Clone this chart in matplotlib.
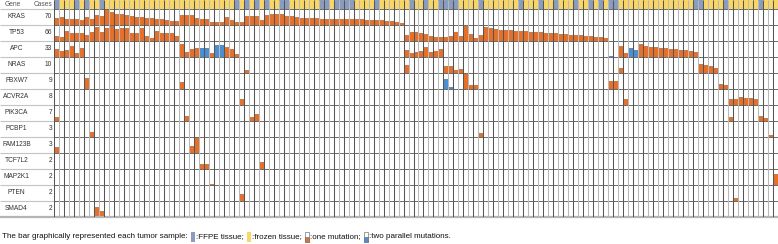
import matplotlib.pyplot as plt
from matplotlib.patches import Rectangle

plt.rcParams['font.family'] = ['Liberation Sans', 'DejaVu Sans']

genes = ["KRAS", "TP53", "APC", "NRAS", "FBXW7", "ACVR2A", "PIK3CA",
         "PCBP1", "FAM123B", "TCF7L2", "MAP2K1", "PTEN", "SMAD4"]
cases = [70, 66, 33, 10, 9, 8, 7, 3, 3, 2, 2, 2, 2]
n_samples = 145

# samples from FFPE tissue (the rest are frozen)
ffpe_cols = [0, 4, 6, 9, 36, 38, 40, 42, 45, 46, 53, 54, 56, 57, 58, 59, 64,
             71, 74, 77, 78, 79, 80, 85, 93, 97, 100, 104, 107, 109, 111, 112,
             128, 129, 134, 141]

# runs of mutated samples: (first sample, bar heights as fraction of row)
kras_runs = [(0, [.42, .52, .37, .37, .37, .31, .52, .37, .62, .56, 1.0, .83, .69,
                  .69, .6, .58, .52, .48, .46, .42, .4, .35, .31, .27, .25]),
             (25, [.62, .62, .62, .42, .35, .35, .17, .21, .21, .48, .31, .17]),
             (37, [.17, .56, .56, .56, .33]),
             (42, [.62, .69, .69, .67, .58, .56, .5, .46, .44, .42, .42, .4, .4, .4,
                   .38, .38, .38, .37, .35, .35, .33, .31, .31, .29, .27, .25, .21, .15])]
tp53_runs = [(0, [.31, .23, .63, .48, .48, .48, .38, .58, .9, .58, .79, .96, .75,
                  .79, .79, .48, .52, .79, .31, .17, .63, .48, .52, .48, .31]),
             (70, [.38, .54, .54, .5, .44, .31, .27, .27, .27, .33, .58, .31, .94,
                   .44, .21, .38, .85, .79, .75, .71, .69, .67, .65, .63, .6, .56,
                   .54, .54, .52, .5, .48, .46, .42, .4, .37, .35, .33, .31, .27,
                   .25, .21])]
apc_runs = [(0, [.5, .38, .44, .71, .23, .58]),
            (25, [.79, .33, .48, .54, .54, .54, .27, .75, .75, .65, .48, .17]),
            (70, [.44, .27, .33, .38, .6, .33, .38, .5]),
            (111, [.06]),
            (113, [.69, .23, .54, .44, .81, .71, .65, .6, .56, .54, .52, .5, .46,
                   .42, .38, .31])]
nras_runs = [(38, [.19]), (70, [.5]), (78, [.45, .45, .2, .25]), (113, [.29]),
             (129, [.56, .5, .44, .33])]
fbxw7_runs = [(6, [.67]), (25, [.46]), (78, [.63, .1]), (82, [1.0, .25, .25]),
              (111, [.5, .5]), (133, [.31, .25])]
acvr2a_runs = [(37, [.35]), (114, [.38]), (135, [.35, .35, .52, .42, .42, .35])]
pik3ca_runs = [(0, [.23]), (26, [.31]), (39, [.23, .44]), (135, [.23]), (141, [.31, .17])]
pcbp1_runs = [(7, [.29]), (85, [.25]), (143, [.15])]
fam123b_runs = [(0, [.4]), (27, [.46, 1.0])]
tcf7l2_runs = [(29, [.31, .31]), (41, [.46])]
map2k1_runs = [(31, [.06]), (144, [.69])]
pten_runs = [(37, [.44]), (136, [.17])]
smad4_runs = [(8, [.6, .38])]

all_runs = [kras_runs, tp53_runs, apc_runs, nras_runs, fbxw7_runs, acvr2a_runs,
            pik3ca_runs, pcbp1_runs, fam123b_runs, tcf7l2_runs, map2k1_runs,
            pten_runs, smad4_runs]

# samples carrying two parallel mutations in a gene
two_hits = {"APC": [29, 30, 32, 33, 111, 115, 116], "FBXW7": [78, 79]}

c_ffpe = '#8a9dbf'
c_frozen = '#f8d668'
c_one = '#e6702a'
c_two = '#4a8fd4'

W, H = 778, 244
fig = plt.figure(figsize=(W / 100, H / 100), dpi=100)
left_px, bottom_px = 54, 217
ax = fig.add_axes([left_px / W, 1 - bottom_px / H, (W - left_px) / W, bottom_px / H])
hdr = 9 / 16
ax.set_xlim(0, n_samples)
ax.set_ylim(len(genes), -hdr)
ax.axis('off')

# tissue header
hdr_colors = [c_ffpe if i in ffpe_cols else c_frozen for i in range(n_samples)]
ax.bar(range(n_samples), [hdr * 0.95] * n_samples, bottom=-hdr, width=1,
       align='edge', color=hdr_colors, linewidth=0)

# mutation bars
for r, (g, runs) in enumerate(zip(genes, all_runs)):
    for start, vals in runs:
        cols = list(range(start, start + len(vals)))
        colors = [c_two if c in two_hits.get(g, []) else c_one for c in cols]
        edges = ['#2c5d95' if c in two_hits.get(g, []) else '#a04e1c' for c in cols]
        ax.bar(cols, vals, bottom=[r + 1 - v for v in vals], width=1, align='edge',
               color=colors, edgecolor=edges, linewidth=0.4, zorder=2)

# grid
x_lab = -left_px * n_samples / (W - left_px)
for r in range(len(genes)):
    ax.hlines(r, x_lab, 0, colors='#c4c4c4', linewidth=0.8, clip_on=False, zorder=3)
    ax.hlines(r, 0, n_samples, colors='#6a6a6a', linewidth=0.7, zorder=3)
ax.hlines(len(genes), x_lab, n_samples, colors='#b4b4b4', linewidth=1.6,
          clip_on=False, zorder=3)
for k in range(n_samples + 1):
    col = '#555555' if k % 2 == 0 else '#b8b8b8'
    ax.vlines(k, -hdr, len(genes), colors=col, linewidth=0.75, zorder=3)

# labels
px = n_samples / (W - left_px)
ax.text(x_lab + 13 * px, -hdr / 2, "Gene", ha='center', va='center', fontsize=4.8, color='#555')
ax.text(-2 * px, -hdr / 2, "Cases", ha='right', va='center', fontsize=4.8, color='#555')
for r, (g, n) in enumerate(zip(genes, cases)):
    ax.text(x_lab + 16.5 * px, r + 0.5, g, ha='center', va='center', fontsize=4.8, color='#333')
    ax.text(-2 * px, r + 0.5, str(n), ha='right', va='center', fontsize=4.8, color='#333')

# legend line at the bottom
pieces = ["The bar graphically represented each tumor sample: ", ":FFPE tissue; ",
          ":frozen tissue; ", ":one mutation; ", ":two parallel mutations."]
icons = [None, ('fill', c_ffpe), ('fill', c_frozen), ('half', c_one), ('half', c_two)]
renderer = fig.canvas.get_renderer()
x = 2.0
yc = 237
for txt, icon in zip(pieces, icons):
    if icon is not None:
        kind, colr = icon
        x += 1
        if kind == 'fill':
            fig.patches.append(Rectangle((x / W, 1 - (yc + 5) / H), 4 / W, 10 / H,
                                         transform=fig.transFigure, facecolor=colr,
                                         edgecolor='none'))
        else:
            fig.patches.append(Rectangle((x / W, 1 - (yc + 5) / H), 4 / W, 10 / H,
                                         transform=fig.transFigure, facecolor='white',
                                         edgecolor='#777', linewidth=0.5))
            fig.patches.append(Rectangle((x / W, 1 - (yc + 5) / H), 4 / W, 5 / H,
                                         transform=fig.transFigure, facecolor=colr,
                                         edgecolor='#777', linewidth=0.5))
        x += 5
    t = fig.text(x / W, 1 - yc / H, txt, ha='left', va='center', fontsize=5.8, color='#111')
    x += t.get_window_extent(renderer).width

fig.savefig('out.png', dpi=100)
